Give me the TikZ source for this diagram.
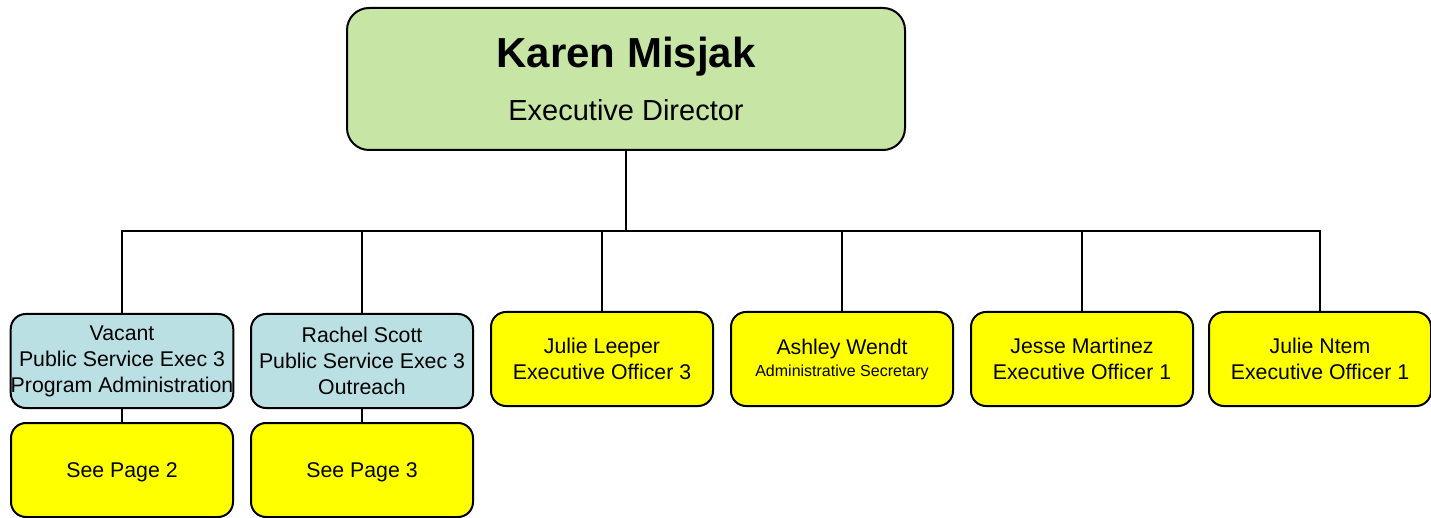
\documentclass[tikz,border=0pt]{standalone}
\usepackage{fontspec}
\setmainfont{Liberation Sans}
\usepackage{tikz}
\usetikzlibrary{calc}
\definecolor{bossgreen}{RGB}{199,230,165}
\definecolor{execblue}{RGB}{186,224,228}
\definecolor{staffyellow}{RGB}{255,255,0}
\newcommand{\boxwidth}{222pt}
\newcommand{\boxheight}{94pt}
\newcommand{\thickness}{2pt}

\begin{document}
\begin{tikzpicture}[x=1pt,y=-1pt,line width=\thickness,
  orgbox/.style={draw, rounded corners=15pt, minimum width=\boxwidth, minimum height=\boxheight,
    inner sep=0pt, align=center, font=\fontsize{21.3}{26}\selectfont},
  bossbox/.style={orgbox, fill=bossgreen, rounded corners=22pt, minimum width=558pt, minimum height=142pt},
  bluebox/.style={orgbox, fill=execblue},
  yellowbox/.style={orgbox, fill=staffyellow}]
\useasboundingbox (0,0) rectangle (1431,518);
\node[bossbox] (0) at (626,79) {{\fontsize{42}{50}\selectfont\bfseries Karen Misjak}\\[22pt]{\fontsize{29}{29}\selectfont Executive Director}};
\node[bluebox] (1) at (122,361) {Vacant\\Public Service Exec 3\\Program Administration};
\node[bluebox] (2) at (362,361) {Rachel Scott\\Public Service Exec 3\\Outreach};
\node[yellowbox] (3) at (602,359) {Julie Leeper\\Executive Officer 3};
\node[yellowbox] (4) at (842,359) {Ashley Wendt\\[-4pt]{\fontsize{16}{16}\selectfont Administrative Secretary}};
\node[yellowbox] (5) at (1082,359) {Jesse Martinez\\Executive Officer 1};
\node[yellowbox] (6) at (1320,359) {Julie Ntem\\Executive Officer 1};
\node[yellowbox, text depth=0pt] (7) at (122,470) {See Page 2};
\node[yellowbox, text depth=0pt] (8) at (362,470) {See Page 3};
%bus
\coordinate (bus) at (626,231);
\draw (0.south) -- (bus);
\draw (1.north) |- (6.north |- bus) -- (6.north);
\foreach \i in {2,3,4,5}
  \draw (\i.north) -- (\i.north |- bus);
%see pages
\draw (1.south) -- (7.north);
\draw (2.south) -- (8.north);
\end{tikzpicture}
\end{document}
